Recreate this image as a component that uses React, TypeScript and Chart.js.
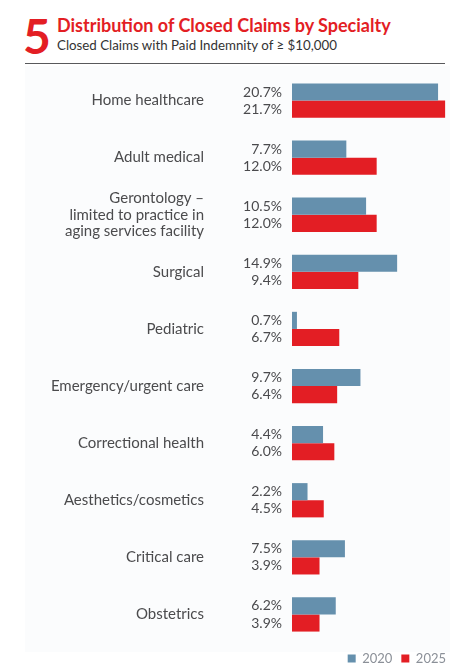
import {useEffect, useRef} from "react";
import {Chart, registerables} from "chart.js";

Chart.register(...registerables)

const specialties: (string | string[])[] = [
  "Home healthcare",
  "Adult medical",
  ["Gerontology –", "limited to practice in", "aging services facility"],
  "Surgical",
  "Pediatric",
  "Emergency/urgent care",
  "Correctional health",
  "Aesthetics/cosmetics",
  "Critical care",
  "Obstetrics",
]
const years = ["2020", "2025"]
const share2020 = [20.7, 7.7, 10.5, 14.9, 0.7, 9.7, 4.4, 2.2, 7.5, 6.2]
const share2025 = [21.7, 12.0, 12.0, 9.4, 6.7, 6.4, 6.0, 4.5, 3.9, 3.9]

const BLUE = "#6590ad"
const RED = "#e31e24"
const FONT = "Lato, 'Noto Sans', sans-serif"

// percent labels to the left of each bar
const valueLabels = {
  id: "valueLabels",
  afterDatasetsDraw(chart: Chart) {
    const {ctx, chartArea} = chart
    ctx.save()
    ctx.font = `14px ${FONT}`
    ctx.fillStyle = "#4a4a4d"
    ctx.textAlign = "right"
    ctx.textBaseline = "middle"
    chart.data.datasets.forEach((ds, i) => {
      chart.getDatasetMeta(i).data.forEach((bar, j) => {
        const v = ds.data[j] as number
        ctx.fillText(v.toFixed(1) + "%", chartArea.left - 10, bar.y)
      })
    })
    ctx.restore()
  }
}

let chart: Chart

export default () => {
  const canvas = useRef<HTMLCanvasElement>(null)

  useEffect(() => {
    chart = new Chart(canvas.current!, {
      type: "bar",
      plugins: [valueLabels],
      data: {
        labels: specialties,
        datasets: [
          {label: years[0], data: share2020, backgroundColor: BLUE},
          {label: years[1], data: share2025, backgroundColor: RED},
        ]
      },
      options: {
        indexAxis: "y",
        animation: false,
        responsive: false,
        layout: {padding: {top: 8, right: 3, bottom: 1, left: 0}},
        datasets: {bar: {categoryPercentage: 0.6, barPercentage: 1}},
        scales: {
          x: {display: false, min: 0, max: 23.1},
          y: {
            grid: {display: false, drawTicks: false},
            border: {display: false},
            // fixed axis width; drop the vertical padding the big tick padding adds
            afterFit: (s: any) => {
              s.width = 292
              s.paddingTop = 0
              s.paddingBottom = 0
            },
            ticks: {
              padding: 88,
              color: "#4b4b4d",
              font: {family: FONT, size: 15, lineHeight: 1.1},
            }
          }
        },
        plugins: {
          legend: {
            position: "bottom",
            align: "end",
            labels: {
              boxWidth: 8,
              boxHeight: 8,
              padding: 9,
              color: "#8b9098",
              font: {family: FONT, size: 13},
            }
          },
          tooltip: {enabled: false},
        }
      }
    })
    return () => {
      chart.destroy()
    }
  }, [])

  return (
    <div style={{position: "fixed", left: 0, top: 0, width: 458, height: 672, overflow: "hidden", background: "#fff", fontFamily: FONT}}>
      <div style={{position: "absolute", left: 25, top: 66, width: 425, height: 586, background: "#fbfcfd"}}/>
      <div style={{position: "absolute", left: 23, top: 12, fontSize: 48, lineHeight: "48px", fontWeight: 700, color: RED}}>5</div>
      <div style={{position: "absolute", left: 57, top: 14, fontSize: 18, fontWeight: 700, color: RED, whiteSpace: "nowrap"}}>
        Distribution of Closed Claims by Specialty
      </div>
      <div style={{position: "absolute", left: 57, top: 37, fontSize: 13.3, color: "#333", whiteSpace: "nowrap"}}>
        Closed Claims with Paid Indemnity of ≥ $10,000
      </div>
      <div style={{position: "absolute", left: 25, top: 63, width: 420, height: 0, borderTop: "1.5px solid #58595b"}}/>
      <canvas ref={canvas} width={458} height={612} style={{position: "absolute", left: 0, top: 64, width: 458, height: 612}}></canvas>
    </div>
  )
}
